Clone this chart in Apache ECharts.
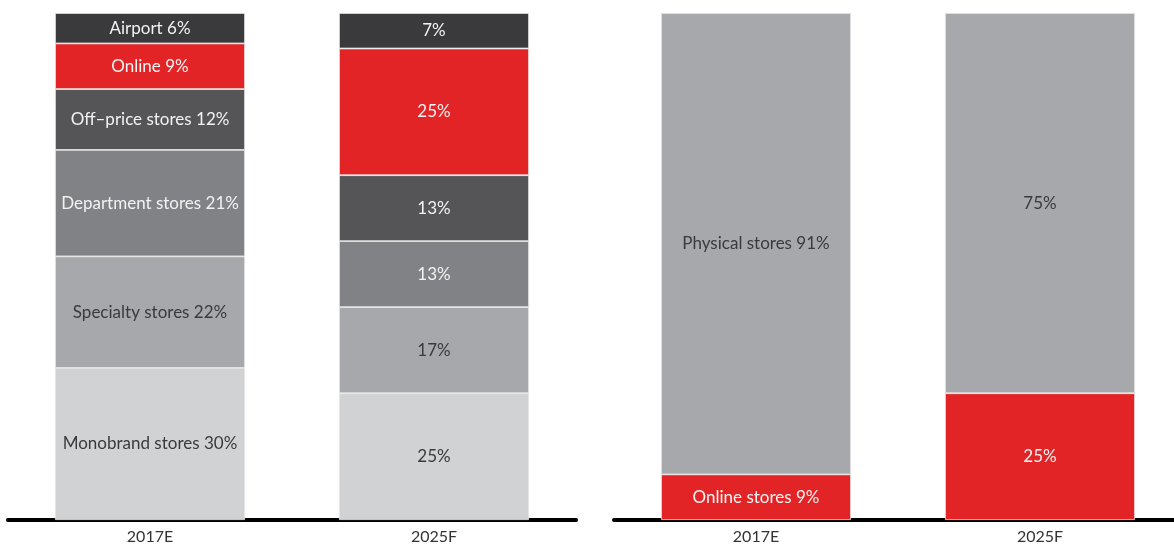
<!DOCTYPE html>
<html>
<head>
<meta charset="utf-8">
<script src="https://cdn.jsdelivr.net/npm/echarts@6/dist/echarts.min.js"></script>
<style>
  html, body { margin: 0; padding: 0; background: #fff; }
  #chart { width: 1174px; height: 548px; }
</style>
</head>
<body>
<div id="chart"></div>
<script>
// Years on both panels
const years = ['2017E', '2025F'];

// Left panel: sales share by channel (bottom to top)
const channelNames = ['Monobrand stores', 'Specialty stores', 'Department stores', 'Off–price stores', 'Online', 'Airport'];
const monobrand = [30, 25];
const specialty = [22, 17];
const department = [21, 13];
const offPrice = [12, 13];
const online = [9, 25];
const airport = [6, 7];

// Right panel: physical vs online
const splitNames = ['Online stores', 'Physical stores'];
const onlineStores = [9, 25];
const physicalStores = [91, 75];

const channelValues = [monobrand, specialty, department, offPrice, online, airport];
const channelColors = ['#d1d2d4', '#a7a8ab', '#818285', '#555557', '#e22426', '#3a3a3c'];
const channelText = ['#3a3a3c', '#3a3a3c', '#f2f2f2', '#f2f2f2', '#f4f4f4', '#f2f2f2'];

const splitValues = [onlineStores, physicalStores];
const splitColors = ['#e22426', '#a7a8ab'];
const splitText = ['#f4f4f4', '#3a3a3c'];

const FONT = 'Lato, "DejaVu Sans", sans-serif';

function makeSeries(names, values, colors, textColors, axisIndex, stackId) {
  return names.map((name, i) => ({
    name: name,
    type: 'bar',
    stack: stackId,
    xAxisIndex: axisIndex,
    yAxisIndex: axisIndex,
    barWidth: 190,
    data: values[i],
    itemStyle: { color: colors[i], borderColor: '#e6e6e6', borderWidth: 0.8 },
    label: {
      show: true,
      position: 'inside',
      color: textColors[i],
      fontFamily: FONT,
      fontSize: 17,
      formatter: p => p.dataIndex === 0 ? name + ' ' + p.value + '%' : p.value + '%'
    },
    emphasis: { disabled: true }
  }));
}

const chart = echarts.init(document.getElementById('chart'), null, { renderer: 'canvas' });

const xAxisBase = {
  type: 'category',
  data: years,
  axisTick: { show: false },
  axisLine: { lineStyle: { color: '#000', width: 4 } },
  axisLabel: { color: '#333', fontFamily: FONT, fontSize: 16, margin: 9 }
};
const yAxisBase = { type: 'value', min: 0, max: 100, show: false };

chart.setOption({
  animation: false,
  grid: [
    { left: 8, width: 568, top: 13, height: 507, outerBoundsMode: 'none' },
    { left: 614, width: 568, top: 13, height: 507, outerBoundsMode: 'none' }
  ],
  xAxis: [
    Object.assign({ gridIndex: 0 }, xAxisBase),
    Object.assign({ gridIndex: 1 }, xAxisBase)
  ],
  yAxis: [
    Object.assign({ gridIndex: 0 }, yAxisBase),
    Object.assign({ gridIndex: 1 }, yAxisBase)
  ],
  series: [
    ...makeSeries(channelNames, channelValues, channelColors, channelText, 0, 'channels'),
    ...makeSeries(splitNames, splitValues, splitColors, splitText, 1, 'split')
  ]
});
</script>
</body>
</html>
